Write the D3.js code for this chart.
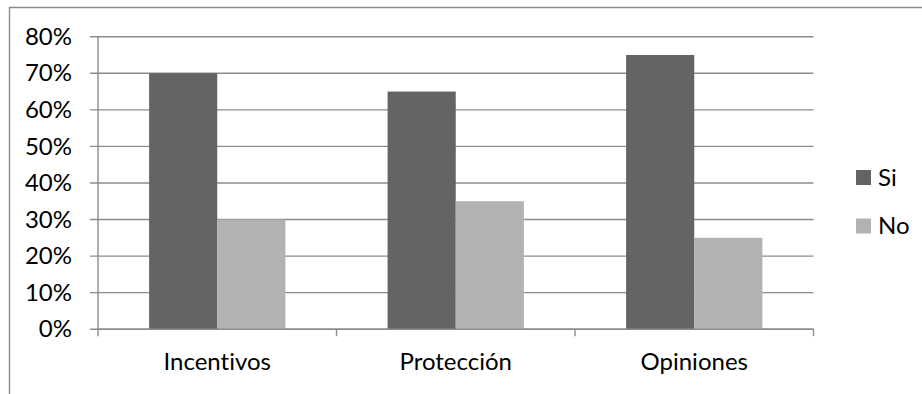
<!DOCTYPE html>
<html>
<head>
<meta charset="utf-8">
<script src="https://cdn.jsdelivr.net/npm/d3@7"></script>
<style>
  html, body { margin: 0; padding: 0; background: #fff; }
  svg { display: block; }
  text { font-family: Lato, "Liberation Sans", sans-serif; fill: #000; font-variant-ligatures: none; }
</style>
</head>
<body>
<svg id="chart" width="922" height="394"></svg>
<script>
// Survey answers per topic
const categories = ["Incentivos", "Protección", "Opiniones"];
const seriesNames = ["Si", "No"];
const siValues = [0.70, 0.65, 0.75];
const noValues = [0.30, 0.35, 0.25];
const yTicks = [0, 0.1, 0.2, 0.3, 0.4, 0.5, 0.6, 0.7, 0.8];
const seriesColors = ["#646464", "#b2b2b2"];

const svg = d3.select("#chart");
const gridColor = "#8c8c8c";

// Outer frame of the chart area
svg.append("path")
  .attr("d", "M9.5,394 L9.5,7.5 L922,7.5")
  .attr("fill", "none")
  .attr("stroke", gridColor)
  .attr("stroke-width", 1.4);

const plot = { left: 98, right: 813.5, top: 36.7, bottom: 329.2 };

const x = d3.scaleBand()
  .domain(categories)
  .range([plot.left, plot.right])
  .paddingInner(0)
  .paddingOuter(0);

const xInner = d3.scaleBand()
  .domain(seriesNames)
  .range([0, x.bandwidth()])
  .paddingInner(0)
  .paddingOuter(0.75);

const y = d3.scaleLinear()
  .domain([0, 0.8])
  .range([plot.bottom, plot.top]);

// Horizontal gridlines
svg.append("g")
  .selectAll("line")
  .data(yTicks)
  .join("line")
  .attr("x1", plot.left - 8)
  .attr("x2", plot.right)
  .attr("y1", d => y(d))
  .attr("y2", d => y(d))
  .attr("stroke", gridColor)
  .attr("stroke-width", 1.4);

// Bars
const rows = categories.map((c, i) => ({ cat: c, values: [siValues[i], noValues[i]] }));
svg.append("g")
  .selectAll("g")
  .data(rows)
  .join("g")
  .attr("transform", d => `translate(${x(d.cat)},0)`)
  .selectAll("rect")
  .data(d => d.values.map((v, j) => ({ name: seriesNames[j], value: v, color: seriesColors[j] })))
  .join("rect")
  .attr("x", d => xInner(d.name))
  .attr("width", xInner.bandwidth())
  .attr("y", d => y(d.value))
  .attr("height", d => y(0) - y(d.value))
  .attr("fill", d => d.color);

// Y axis
const yAxis = d3.axisLeft(y)
  .tickValues(yTicks)
  .tickFormat(d3.format(".0%"))
  .tickSize(0)
  .tickPadding(26);
const gy = svg.append("g")
  .attr("transform", `translate(${plot.left},0)`)
  .call(yAxis);
gy.select(".domain").attr("stroke", gridColor).attr("stroke-width", 1.4)
  .attr("d", `M0,${plot.top}V${plot.bottom}`);
gy.selectAll("text").attr("font-size", 24).attr("font-family", "Lato, sans-serif").attr("fill", "#000");

// X axis
const xAxis = d3.axisBottom(x).tickSize(0).tickPadding(24);
const gx = svg.append("g")
  .attr("transform", `translate(0,${plot.bottom})`)
  .call(xAxis);
gx.select(".domain").attr("stroke", gridColor).attr("stroke-width", 1.4)
  .attr("d", `M${plot.left},0H${plot.right}`);
gx.selectAll("text").attr("font-size", 24).attr("font-family", "Lato, sans-serif").attr("fill", "#000");

// Category separator ticks
const bounds = categories.map(c => x(c)).concat([x.range()[1]]);
gx.append("g")
  .selectAll("line")
  .data(bounds)
  .join("line")
  .attr("x1", d => d)
  .attr("x2", d => d)
  .attr("y1", 0)
  .attr("y2", 7)
  .attr("stroke", gridColor)
  .attr("stroke-width", 1.4);

// Legend
const legend = svg.append("g")
  .selectAll("g")
  .data(seriesNames)
  .join("g")
  .attr("transform", (d, i) => `translate(856,${170 + i * 48.5})`);
legend.append("rect")
  .attr("width", 15)
  .attr("height", 15)
  .attr("fill", (d, i) => seriesColors[i]);
legend.append("text")
  .attr("x", 22)
  .attr("y", 15.5)
  .attr("font-size", 24)
  .text(d => d);
</script>
</body>
</html>
